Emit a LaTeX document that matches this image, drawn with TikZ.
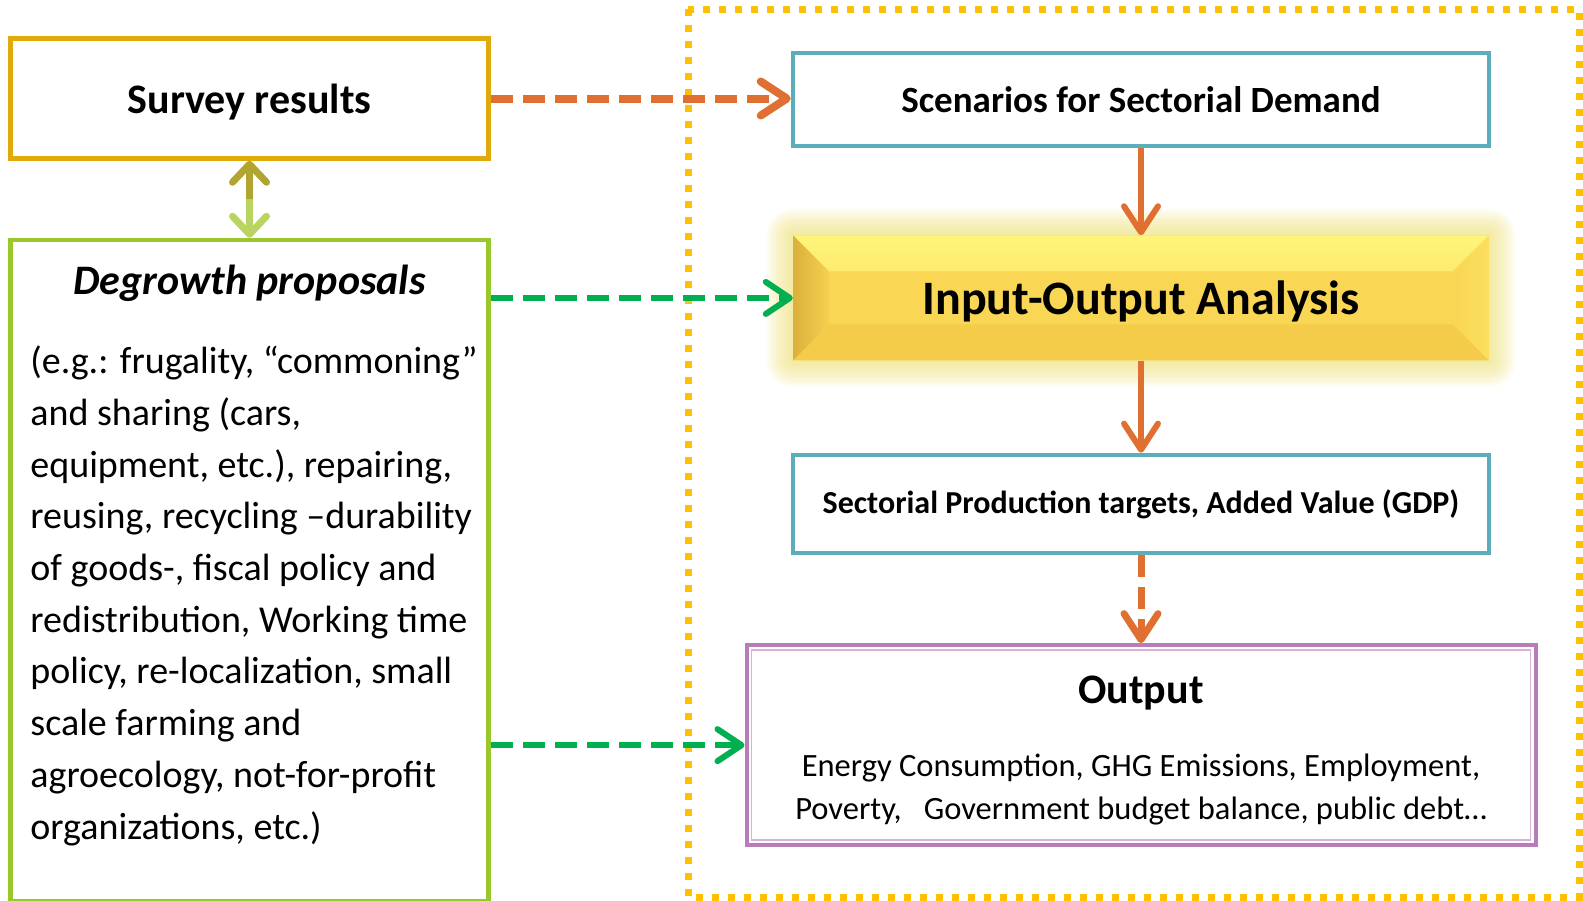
\documentclass[tikz,border=0pt]{standalone}
\usepackage{fontspec}
\setmainfont{Carlito}
\usetikzlibrary{positioning,arrows.meta,calc,backgrounds}

\definecolor{surveyc}{RGB}{224,170,10}
\definecolor{degrowthc}{RGB}{152,200,42}
\definecolor{framec}{RGB}{255,192,0}
\definecolor{tealc}{RGB}{91,174,186}
\definecolor{orangec}{RGB}{224,112,50}
\definecolor{greenc}{RGB}{0,176,80}
\definecolor{purplec}{RGB}{184,124,184}
\definecolor{purplelt}{RGB}{216,176,216}
\definecolor{olivec}{RGB}{178,164,48}
\definecolor{lightgreenc}{RGB}{186,212,98}
\definecolor{iotop}{RGB}{255,244,122}
\definecolor{iomid}{RGB}{249,214,84}
\definecolor{iobot}{RGB}{244,204,74}
\definecolor{iodark}{RGB}{218,176,58}
\definecolor{glowc}{RGB}{236,222,110}

\begin{document}
\begin{tikzpicture}[
    x=1pt,y=-1pt,
    boxline/.style={rectangle,draw=#1,line width=4.5pt,fill=white,inner sep=0pt},
    tealbox/.style={boxline=tealc,minimum width=696pt,minimum height=93pt},
    iobox/.style={rectangle,fill=iomid,minimum width=696pt,minimum height=125pt,inner sep=0pt,
      path picture={
        \shade[top color=iotop,bottom color=iomid] (path picture bounding box.north west) -- (path picture bounding box.north east)
          -- ++(-36,36) -- ($(path picture bounding box.north west)+(36,36)$) -- cycle;
        \fill[iobot] (path picture bounding box.south west) -- (path picture bounding box.south east)
          -- ++(-36,-36) -- ($(path picture bounding box.south west)+(36,-36)$) -- cycle;
        \shade[left color=iodark,right color=iomid!85!iodark] (path picture bounding box.north west) -- ++(36,36)
          -- ($(path picture bounding box.south west)+(36,-36)$) -- (path picture bounding box.south west) -- cycle;
        \shade[left color=iomid,right color=iomid!70!iotop] (path picture bounding box.north east) -- ++(-36,36)
          -- ($(path picture bounding box.south east)+(-36,-36)$) -- (path picture bounding box.south east) -- cycle;
      }},
    titletext/.style={font=\bfseries\fontsize{42}{50}\selectfont},
    bodytext/.style={inner sep=0pt,font=\fontsize{38}{51.7}\selectfont},
    orangearrow/.style={draw=orangec,line width=7pt,-{Straight Barb[length=26pt,width=34pt,round]}},
    greenarrow/.style={draw=greenc,line width=6pt,dash pattern=on 22pt off 10pt,-{Straight Barb[length=24pt,width=32pt,round]}},
    linkarrow/.style={line width=7pt,-{Straight Barb[length=18pt,width=34pt,round]}},
  ]
\useasboundingbox (0,0) rectangle (1583,900);

% left column
\node (survey) [boxline=surveyc,minimum width=478pt,minimum height=120pt,titletext,text depth=0pt] at (249.5,98.5) {Survey results};
\node (degrowth) [boxline=degrowthc,minimum width=478pt,minimum height=661pt,below=77pt of survey] {};
\node (degrowth title) [titletext,font=\bfseries\itshape\fontsize{42}{50}\selectfont,anchor=base] at ($(degrowth.north)+(0,57)$) {Degrowth proposals};
\node (degrowth notes) [bodytext,align=left,anchor=north west] at ($(degrowth.north west)+(22,108)$) {
  (e.g.: frugality, “commoning” \\
  and sharing (cars, \\
  equipment, etc.), repairing, \\
  reusing, recycling –durability \\
  of goods-, fiscal policy and \\
  redistribution, Working time \\
  policy, re-localization, small \\
  scale farming and \\
  agroecology, not-for-profit \\
  organizations, etc.)
};

% dotted frame round the model
\draw[framec,line width=7pt,dash pattern=on 7pt off 9pt] (688,9) rectangle (1579,897);

% right column
\node (scenarios) [tealbox,font=\bfseries\fontsize{37}{44}\selectfont] at (1141,99.5) {Scenarios for Sectorial Demand};
\node (io) [iobox,font=\bfseries\fontsize{48}{56}\selectfont,text depth=0pt,below=87pt of scenarios] {Input-Output Analysis};
\node (production) [tealbox,minimum height=98pt,font=\bfseries\fontsize{32}{38}\selectfont,below=92pt of io] {Sectorial Production targets, Added Value (GDP)};
\node (output) [boxline=purplec,line width=4pt,minimum width=789pt,minimum height=200pt,below=88pt of production] {};
\draw[purplelt,line width=1.5pt] ($(output.north west)+(7,7)$) rectangle ($(output.south east)+(-7,-7)$);
\node (output title) [titletext,anchor=base] at ($(output.north)+(0,60)$) {Output};
\node (output notes) [bodytext,font=\fontsize{32.5}{43}\selectfont,align=center,anchor=north] at ($(output.north)+(0,111)$) {
  Energy Consumption, GHG Emissions, Employment, \\
  Poverty,\ \ \ Government budget balance, public debt…
};

% glow behind the analysis box
\begin{scope}[on background layer]
\foreach \g in {2,5,...,26}
  \fill[glowc,opacity=0.1,rounded corners=\g pt] ($(io.north west)+(-\g,-\g)$) rectangle ($(io.south east)+(\g,\g)$);
\end{scope}

% connectors
\draw[orangearrow,line width=8pt,dash pattern=on 22pt off 10pt] (survey.east) -- (scenarios.west |- survey.east);
\draw[orangearrow,line width=6pt] (scenarios.south) -- (io.north);
\draw[orangearrow,line width=6pt] (io.south) -- (production.north);
\draw[orangearrow,dash pattern=on 22pt off 10pt] (production.south) -- (output.north);
\draw[greenarrow] (degrowth.east |- io.west) -- (io.west);
\draw[greenarrow] (degrowth.east |- output.west) -- (output.west);
\coordinate (link mid) at ($(survey.south)!0.5!(degrowth.north)$);
\draw[linkarrow,olivec] (link mid) -- (survey.south);
\draw[linkarrow,lightgreenc] (link mid) -- (degrowth.north);
\end{tikzpicture}
\end{document}
